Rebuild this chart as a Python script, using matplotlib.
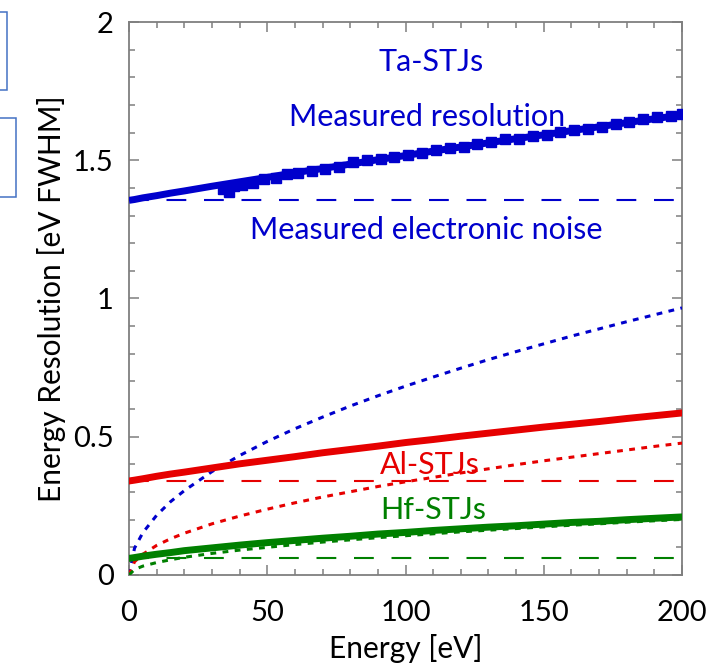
import matplotlib
matplotlib.use("Agg")
import matplotlib.pyplot as plt
from matplotlib.patches import Rectangle
from matplotlib.ticker import MultipleLocator

plt.rcParams['font.family'] = ['Lato', 'DejaVu Sans']

# ---- data ----
energy = [0, 2, 5, 10, 15, 20, 30, 40, 50, 60, 70, 80, 90, 100,
          110, 120, 130, 140, 150, 160, 170, 180, 190, 200]

ta_total = [1.355, 1.358, 1.364, 1.372, 1.381, 1.389, 1.406, 1.422, 1.438, 1.455,
            1.470, 1.486, 1.502, 1.517, 1.533, 1.548, 1.563, 1.578, 1.592, 1.607,
            1.621, 1.636, 1.650, 1.664]
ta_stat = [0.0, 0.097, 0.153, 0.216, 0.265, 0.305, 0.374, 0.432, 0.483, 0.529,
           0.571, 0.611, 0.648, 0.683, 0.716, 0.748, 0.779, 0.808, 0.836, 0.864,
           0.890, 0.916, 0.941, 0.966]
ta_noise = 1.355

al_total = [0.340, 0.343, 0.348, 0.357, 0.365, 0.372, 0.387, 0.402, 0.415, 0.428,
            0.442, 0.454, 0.466, 0.479, 0.490, 0.502, 0.513, 0.524, 0.535, 0.545,
            0.555, 0.566, 0.576, 0.586]
al_stat = [0.0, 0.048, 0.075, 0.107, 0.131, 0.151, 0.185, 0.213, 0.238, 0.261,
           0.282, 0.301, 0.320, 0.337, 0.353, 0.369, 0.384, 0.399, 0.413, 0.426,
           0.439, 0.452, 0.465, 0.477]
al_noise = 0.34

hf_total = [0.060, 0.063, 0.068, 0.075, 0.081, 0.088, 0.098, 0.108, 0.117, 0.125,
            0.133, 0.140, 0.148, 0.154, 0.161, 0.167, 0.173, 0.178, 0.184, 0.190,
            0.194, 0.200, 0.205, 0.210]
hf_stat = [0.0, 0.020, 0.032, 0.045, 0.055, 0.064, 0.078, 0.090, 0.100, 0.110,
           0.119, 0.127, 0.135, 0.142, 0.149, 0.156, 0.162, 0.168, 0.174, 0.180,
           0.185, 0.191, 0.196, 0.201]
hf_noise = 0.06

meas_energy = [34, 36, 38, 41, 45, 49, 53, 57, 61, 66, 71, 76, 81, 86, 91, 96,
               101, 106, 111, 116, 121, 126, 131, 136, 141, 146, 151, 156, 161,
               166, 171, 176, 181, 186, 191, 196, 200]
meas_res = [1.395, 1.385, 1.408, 1.412, 1.418, 1.432, 1.437, 1.452, 1.455, 1.462,
            1.468, 1.475, 1.492, 1.500, 1.503, 1.512, 1.520, 1.528, 1.537, 1.545,
            1.548, 1.557, 1.565, 1.578, 1.578, 1.588, 1.590, 1.603, 1.608, 1.613,
            1.620, 1.632, 1.637, 1.648, 1.656, 1.660, 1.668]

xticks = [0, 50, 100, 150, 200]
yticks = [0, 0.5, 1, 1.5, 2]
ytick_labels = ['0', '0.5', '1', '1.5', '2']

BLUE = '#0000CC'
RED = '#E60000'
GREEN = '#008000'
GRAY = '#7F7F7F'

fig = plt.figure(figsize=(7.10, 6.71), dpi=100)
ax = fig.add_axes([0.1817, 0.1431, 0.7789, 0.8241])

DOT = dict(lw=2.2, dashes=(1.9, 2.1))
DASH = dict(lw=1.5, dashes=(9.5, 8.5))

# Ta
ax.plot(energy, ta_total, color=BLUE, lw=5.0, solid_capstyle='butt', zorder=4)
ax.plot(meas_energy, meas_res, ls='none', marker='s', ms=7.5, color=BLUE,
        mec=BLUE, zorder=5)
ax.plot(energy, ta_stat, color=BLUE, zorder=3, **DOT)
ax.plot([energy[0], energy[-1]], [ta_noise, ta_noise], color=BLUE, zorder=3, **DASH)

# Al
ax.plot(energy, al_total, color=RED, lw=5.0, zorder=4)
ax.plot(energy, al_stat, color=RED, zorder=3, **DOT)
ax.plot([energy[0], energy[-1]], [al_noise, al_noise], color=RED, zorder=3, **DASH)

# Hf
ax.plot(energy, hf_total, color=GREEN, lw=5.0, zorder=4)
ax.plot(energy, hf_stat, color=GREEN, zorder=3, **DOT)
ax.plot([energy[0], energy[-1]], [hf_noise, hf_noise], color=GREEN, zorder=3, **DASH)

ax.set_xlim(0, 200)
ax.set_ylim(0, 2)
ax.set_xticks(xticks)
ax.set_yticks(yticks)
ax.set_yticklabels(ytick_labels)
ax.xaxis.set_minor_locator(MultipleLocator(10))
ax.yaxis.set_minor_locator(MultipleLocator(0.1))
ax.tick_params(which='both', direction='in', top=True, right=True, color=GRAY,
               width=1.1)
ax.tick_params(which='major', length=7.5, labelsize=21)
ax.tick_params(which='minor', length=4)
ax.tick_params(axis='y', pad=11)
ax.tick_params(axis='x', pad=18)
for s in ax.spines.values():
    s.set_color(GRAY)
    s.set_linewidth(1.3)

ax.set_xlabel('Energy [eV]', fontsize=21.5, labelpad=6)
ax.set_ylabel('Energy Resolution [eV FWHM]', fontsize=21.5, labelpad=5)

fs = 22
ax.text(90.4, 1.855, 'Ta-STJs', color=BLUE, fontsize=fs, ha='left', va='center')
ax.text(57.9, 1.656, 'Measured resolution', color=BLUE, fontsize=fs,
        ha='left', va='center', zorder=2)
ax.text(43.8, 1.248, 'Measured electronic noise', color=BLUE, fontsize=fs,
        ha='left', va='center')
ax.text(90.8, 0.398, 'Al-STJs', color=RED, fontsize=fs, ha='left', va='center')
ax.text(90.8, 0.235, 'Hf-STJs', color=GREEN, fontsize=fs, ha='left', va='center')

# partial boxes at the left edge
W, H = 710, 671
for (x1, y1, y2) in [(7, 12, 90), (16, 118, 197)]:
    fig.patches.append(Rectangle((-10 / W, 1 - y2 / H), (x1 + 10) / W, (y2 - y1) / H,
                                 transform=fig.transFigure, fill=False,
                                 edgecolor='#4472C4', lw=1.1))

fig.savefig('out.png', dpi=100)
